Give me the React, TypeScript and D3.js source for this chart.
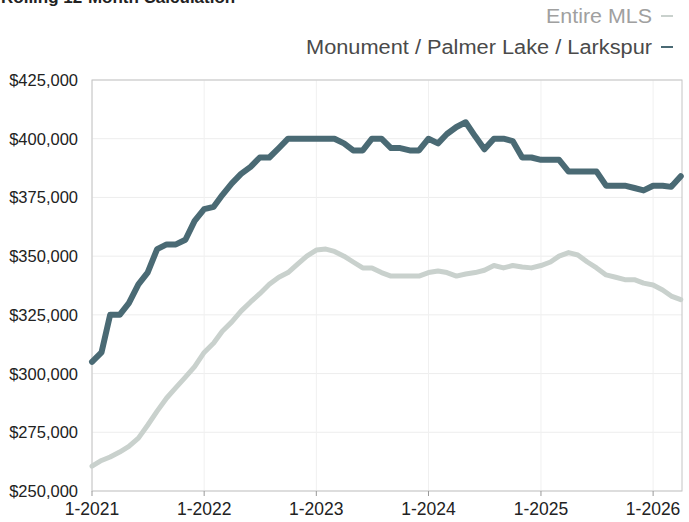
import React from "react";
import * as d3 from "d3";

const startYear = 2021;
const monument: number[] = [
  305000, 309000, 325000, 325000, 330000, 338000, 343000, 353000, 355000, 355000, 357000, 365000,
  370000, 371000, 376000, 381000, 385000, 388000, 392000, 392000, 396000, 400000, 400000, 400000,
  400000, 400000, 400000, 398000, 395000, 395000, 400000, 400000, 396000, 396000, 395000, 395000,
  400000, 398000, 402000, 405000, 407000, 401000, 395500, 400000, 400000, 399000, 392000, 392000,
  391000, 391000, 391000, 386000, 386000, 386000, 386000, 380000, 380000, 380000, 379000, 378000,
  380000, 380000, 379500, 384000,
];
const entireMLS: number[] = [
  260600, 263000, 264500, 266600, 269000, 272500, 278000, 284000, 289600, 294000, 298500, 303000,
  309000, 313000, 318000, 322000, 326600, 330500, 334000, 338000, 341000, 343000, 346600, 350000,
  352600, 353000, 352000, 350000, 347500, 345000, 345000, 343000, 341500, 341500, 341500, 341500,
  343000, 343700, 343000, 341500, 342400, 343000, 344000, 346000, 345000, 346000, 345400, 345000,
  346000, 347500, 350000, 351500, 350500, 347500, 345000, 342000, 341000, 340000, 340000, 338500,
  337700, 335600, 333000, 331500,
];
const yTicks: number[] = [250000, 275000, 300000, 325000, 350000, 375000, 400000, 425000];
const xTickYears: number[] = [2021, 2022, 2023, 2024, 2025, 2026];
const seriesNames: string[] = ["Entire MLS", "Monument / Palmer Lake / Larkspur"];
const titleText = "Rolling 12-Month Calculation";

const W = 689;
const H = 522;
const L = 92;
const R = 682;
const T = 80;
const B = 491;

const dark = "#4a6a74";
const light = "#c9d1cd";

export default function App() {
  const x = d3
    .scaleTime()
    .domain([new Date(2021, 0, 1), new Date(2026, 3, 5)])
    .range([L, R]);
  const y = d3.scaleLinear().domain([250000, 425000]).range([B, T]);
  const dateOf = (i: number) => new Date(startYear, i, 1);
  const line = d3
    .line<number>()
    .x((_, i) => x(dateOf(i)))
    .y((d) => y(d))
    .curve(d3.curveLinear);
  const fmt = (v: number) => "$" + d3.format(",")(v);
  const font = "'Liberation Sans', Arial, Helvetica, sans-serif";

  return (
    <svg
      width={W}
      height={H}
      style={{ position: "absolute", left: 0, top: 0, background: "#fff" }}
      fontFamily={font}
    >
      <rect x={0} y={0} width={W} height={H} fill="#fff" />
      <text x={1} y={3} fontSize={17} fontWeight="bold" fill="#222">
        {titleText}
      </text>
      {/* grid */}
      {yTicks.map((t) => (
        <line key={"gy" + t} x1={L} x2={R} y1={y(t)} y2={y(t)} stroke="#ededed" strokeWidth={1} />
      ))}
      {xTickYears.map((yr) => (
        <line
          key={"gx" + yr}
          x1={x(new Date(yr, 0, 1))}
          x2={x(new Date(yr, 0, 1))}
          y1={T}
          y2={B}
          stroke="#f0f0f0"
          strokeWidth={1}
        />
      ))}
      <rect x={L} y={T} width={R - L} height={B - T} fill="none" stroke="#c4c4c4" strokeWidth={1} />
      {xTickYears.map((yr) => (
        <line
          key={"tx" + yr}
          x1={x(new Date(yr, 0, 1))}
          x2={x(new Date(yr, 0, 1))}
          y1={B}
          y2={B + 5}
          stroke="#999"
          strokeWidth={1}
        />
      ))}
      {yTicks.map((t) => (
        <text key={"ly" + t} x={78} y={y(t) + 6} fontSize={16.5} textAnchor="end" fill="#222">
          {fmt(t)}
        </text>
      ))}
      {xTickYears.map((yr) => (
        <text
          key={"lx" + yr}
          x={x(new Date(yr, 0, 1))}
          y={515}
          fontSize={17.5}
          textAnchor="middle"
          fill="#222"
        >
          {"1-" + yr}
        </text>
      ))}
      <path d={line(entireMLS) || ""} fill="none" stroke={light} strokeWidth={5} strokeLinejoin="round" strokeLinecap="round" />
      <path d={line(monument) || ""} fill="none" stroke={dark} strokeWidth={6} strokeLinejoin="round" strokeLinecap="round" />
      {/* legend */}
      <text x={652} y={23} fontSize={20} textAnchor="end" fill="#a0a0a0" textLength={106} lengthAdjust="spacingAndGlyphs">
        {seriesNames[0]}
      </text>
      <line x1={661} x2={673} y1={16} y2={16} stroke={light} strokeWidth={2} />
      <text x={652} y={54} fontSize={20} textAnchor="end" fill="#4a4a4a" textLength={346} lengthAdjust="spacingAndGlyphs">
        {seriesNames[1]}
      </text>
      <line x1={661} x2={673} y1={47} y2={47} stroke={dark} strokeWidth={2} />
    </svg>
  );
}
